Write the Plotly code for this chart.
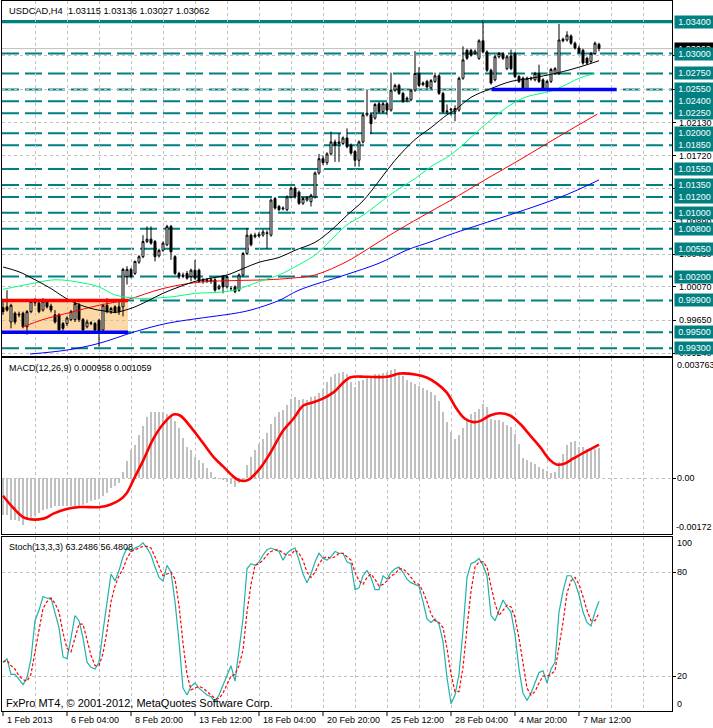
import plotly.graph_objects as go

# ---------------- data ----------------
x_labels = ['1 Feb 2013', '6 Feb 04:00', '8 Feb 20:00', '13 Feb 12:00', '18 Feb 04:00',
            '20 Feb 20:00', '25 Feb 12:00', '28 Feb 04:00', '4 Mar 20:00', '7 Mar 12:00']
x_label_bars = [0, 16, 32, 48, 64, 80, 96, 112, 128, 144]

ohlc = [
    (0.9981, 0.9992, 0.9972, 0.9976), (0.9982, 1.0003, 0.9976, 0.9978), (0.9963, 0.9986, 0.9955, 0.9984),
    (0.9974, 0.9976, 0.9960, 0.9963), (0.9973, 0.9976, 0.9969, 0.9972), (0.9974, 0.9976, 0.9955, 0.9957),
    (0.9957, 0.9978, 0.9947, 0.9976), (0.9976, 0.9991, 0.9974, 0.9989), (0.9987, 0.9993, 0.9983, 0.9988),
    (0.9987, 0.9990, 0.9974, 0.9976), (0.9978, 0.9993, 0.9976, 0.9989), (0.9988, 0.9991, 0.9980, 0.9982),
    (0.9983, 0.9986, 0.9975, 0.9978), (0.9972, 0.9978, 0.9961, 0.9963), (0.9972, 0.9974, 0.9949, 0.9953),
    (0.9961, 0.9963, 0.9952, 0.9955), (0.9961, 0.9970, 0.9958, 0.9968), (0.9966, 0.9978, 0.9964, 0.9976),
    (0.9966, 0.9989, 0.9963, 0.9986), (0.9984, 0.9987, 0.9963, 0.9966), (0.9966, 0.9968, 0.9950, 0.9953),
    (0.9957, 0.9966, 0.9955, 0.9963), (0.9962, 0.9964, 0.9959, 0.9961), (0.9961, 0.9963, 0.9950, 0.9953),
    (0.9965, 0.9967, 0.9932, 0.9949), (0.9953, 0.9986, 0.9950, 0.9984), (0.9984, 0.9993, 0.9974, 0.9976),
    (0.9976, 0.9982, 0.9973, 0.9980), (0.9982, 0.9984, 0.9974, 0.9976), (0.9982, 0.9988, 0.9972, 0.9976),
    (0.9982, 1.0031, 0.9970, 1.0029), (1.0020, 1.0033, 1.0010, 1.0029), (1.0029, 1.0031, 1.0018, 1.0020),
    (1.0024, 1.0040, 1.0022, 1.0039), (1.0038, 1.0047, 1.0036, 1.0045), (1.0045, 1.0072, 1.0043, 1.0064),
    (1.0064, 1.0083, 1.0062, 1.0067), (1.0067, 1.0083, 1.0060, 1.0062), (1.0064, 1.0066, 1.0039, 1.0045),
    (1.0046, 1.0055, 1.0044, 1.0053), (1.0053, 1.0064, 1.0051, 1.0062), (1.0060, 1.0085, 1.0058, 1.0083),
    (1.0083, 1.0085, 1.0041, 1.0051), (1.0045, 1.0047, 1.0022, 1.0024), (1.0024, 1.0026, 1.0017, 1.0020),
    (1.0020, 1.0025, 1.0018, 1.0022), (1.0024, 1.0027, 1.0016, 1.0018), (1.0020, 1.0030, 1.0014, 1.0028),
    (1.0028, 1.0041, 1.0016, 1.0018), (1.0028, 1.0030, 1.0012, 1.0014), (1.0016, 1.0018, 1.0011, 1.0014),
    (1.0014, 1.0018, 1.0012, 1.0016), (1.0016, 1.0019, 1.0011, 1.0014), (1.0016, 1.0018, 1.0001, 1.0003),
    (1.0005, 1.0010, 1.0003, 1.0008), (1.0020, 1.0022, 0.9999, 1.0007), (1.0007, 1.0022, 1.0005, 1.0020),
    (1.0005, 1.0008, 1.0002, 1.0005), (1.0007, 1.0009, 0.9999, 1.0001), (1.0003, 1.0024, 1.0001, 1.0022),
    (1.0022, 1.0051, 1.0020, 1.0049), (1.0049, 1.0081, 1.0047, 1.0072), (1.0072, 1.0074, 1.0058, 1.0060),
    (1.0070, 1.0075, 1.0068, 1.0072), (1.0071, 1.0076, 1.0069, 1.0073), (1.0072, 1.0079, 1.0070, 1.0076),
    (1.0075, 1.0078, 1.0055, 1.0074), (1.0072, 1.0118, 1.0070, 1.0116), (1.0118, 1.0120, 1.0104, 1.0106),
    (1.0108, 1.0110, 1.0102, 1.0104), (1.0105, 1.0108, 1.0103, 1.0106), (1.0104, 1.0122, 1.0102, 1.0120),
    (1.0120, 1.0133, 1.0118, 1.0131), (1.0131, 1.0133, 1.0118, 1.0120), (1.0126, 1.0128, 1.0110, 1.0112),
    (1.0112, 1.0120, 1.0110, 1.0118), (1.0116, 1.0121, 1.0114, 1.0119), (1.0114, 1.0124, 1.0108, 1.0122),
    (1.0120, 1.0152, 1.0118, 1.0150), (1.0150, 1.0174, 1.0148, 1.0168), (1.0168, 1.0172, 1.0160, 1.0163),
    (1.0163, 1.0176, 1.0160, 1.0174), (1.0174, 1.0202, 1.0172, 1.0189), (1.0189, 1.0192, 1.0164, 1.0185),
    (1.0187, 1.0200, 1.0164, 1.0189), (1.0187, 1.0196, 1.0185, 1.0194), (1.0194, 1.0206, 1.0181, 1.0183),
    (1.0185, 1.0187, 1.0173, 1.0175), (1.0177, 1.0179, 1.0158, 1.0166), (1.0166, 1.0191, 1.0158, 1.0189),
    (1.0189, 1.0225, 1.0187, 1.0223), (1.0223, 1.0255, 1.0221, 1.0225), (1.0223, 1.0225, 1.0199, 1.0212),
    (1.0219, 1.0238, 1.0217, 1.0236), (1.0237, 1.0239, 1.0225, 1.0227), (1.0227, 1.0239, 1.0225, 1.0237),
    (1.0237, 1.0239, 1.0223, 1.0229), (1.0229, 1.0276, 1.0227, 1.0254), (1.0254, 1.0262, 1.0252, 1.0260),
    (1.0260, 1.0262, 1.0248, 1.0250), (1.0250, 1.0252, 1.0238, 1.0240), (1.0242, 1.0246, 1.0239, 1.0244),
    (1.0242, 1.0256, 1.0240, 1.0254), (1.0254, 1.0303, 1.0252, 1.0275), (1.0275, 1.0283, 1.0258, 1.0260),
    (1.0261, 1.0265, 1.0259, 1.0263), (1.0265, 1.0267, 1.0256, 1.0258), (1.0257, 1.0268, 1.0255, 1.0266),
    (1.0265, 1.0276, 1.0263, 1.0272), (1.0272, 1.0274, 1.0248, 1.0250), (1.0250, 1.0252, 1.0225, 1.0227),
    (1.0228, 1.0236, 1.0224, 1.0227), (1.0229, 1.0232, 1.0222, 1.0230), (1.0227, 1.0235, 1.0215, 1.0231),
    (1.0229, 1.0271, 1.0227, 1.0269), (1.0269, 1.0309, 1.0267, 1.0292), (1.0304, 1.0306, 1.0292, 1.0294),
    (1.0304, 1.0306, 1.0296, 1.0298), (1.0300, 1.0305, 1.0298, 1.0303), (1.0294, 1.0318, 1.0292, 1.0316),
    (1.0316, 1.0342, 1.0300, 1.0302), (1.0302, 1.0304, 1.0277, 1.0279), (1.0279, 1.0281, 1.0261, 1.0263),
    (1.0267, 1.0298, 1.0265, 1.0296), (1.0296, 1.0302, 1.0294, 1.0300), (1.0300, 1.0302, 1.0292, 1.0294),
    (1.0281, 1.0298, 1.0279, 1.0296), (1.0297, 1.0305, 1.0279, 1.0281), (1.0300, 1.0302, 1.0269, 1.0271),
    (1.0271, 1.0273, 1.0263, 1.0265), (1.0269, 1.0271, 1.0255, 1.0256), (1.0256, 1.0271, 1.0255, 1.0269),
    (1.0268, 1.0271, 1.0266, 1.0269), (1.0267, 1.0277, 1.0265, 1.0275), (1.0275, 1.0286, 1.0263, 1.0265),
    (1.0267, 1.0269, 1.0253, 1.0254), (1.0254, 1.0267, 1.0253, 1.0265), (1.0265, 1.0282, 1.0263, 1.0280),
    (1.0275, 1.0283, 1.0273, 1.0281), (1.0275, 1.0337, 1.0273, 1.0317), (1.0318, 1.0320, 1.0314, 1.0316),
    (1.0317, 1.0328, 1.0315, 1.0323), (1.0322, 1.0324, 1.0311, 1.0313), (1.0313, 1.0315, 1.0305, 1.0307),
    (1.0307, 1.0310, 1.0300, 1.0301), (1.0304, 1.0306, 1.0286, 1.0288), (1.0294, 1.0296, 1.0286, 1.0288),
    (1.0290, 1.0302, 1.0288, 1.0300), (1.0300, 1.0315, 1.0298, 1.0313), (1.03115, 1.03136, 1.03027, 1.03062),
]
opens = [r[0] for r in ohlc]
highs = [r[1] for r in ohlc]
lows = [r[2] for r in ohlc]
closes = [r[3] for r in ohlc]
bars = list(range(len(ohlc)))

# moving averages (bar position, price)
ma_black_x = [0, 4, 8, 12, 15, 18, 22, 25, 28, 30, 33, 36, 40, 44, 48, 52, 56, 60, 64, 69, 73, 78, 82, 86, 90,
              94, 98, 103, 107, 111, 113, 117, 122, 127, 132, 138, 142, 146, 149]
ma_black_y = [1.0032, 1.0026, 1.0016, 1.0005, 0.9995, 0.9987, 0.9980, 0.9977, 0.9975, 0.9977, 0.9982, 0.9989,
              0.9999, 1.0007, 1.0014, 1.0018, 1.0022, 1.0030, 1.0038, 1.0044, 1.0053, 1.0063, 1.0078, 1.0097,
              1.0115, 1.0140, 1.0166, 1.0192, 1.0207, 1.0223, 1.0229, 1.0245, 1.0256, 1.0265, 1.0269, 1.0275,
              1.0280, 1.0286, 1.0291]
ma_green_x = [0, 6, 13, 20, 24, 28, 33, 38, 43, 48, 53, 58, 62, 66, 69, 74, 78, 82, 86, 90, 94, 98, 103, 107,
              112, 116, 119, 125, 130, 137, 140, 144, 148]
ma_green_y = [1.0004, 1.0010, 1.0016, 1.0012, 1.0007, 0.9997, 0.9993, 0.9993, 0.9995, 0.9999, 1.0000, 1.0003,
              1.0010, 1.0017, 1.0022, 1.0035, 1.0047, 1.0066, 1.0085, 1.0097, 1.0112, 1.0127, 1.0143, 1.0158,
              1.0173, 1.0190, 1.0204, 1.0229, 1.0244, 1.0253, 1.0259, 1.0269, 1.0275]
ma_red_x = [5, 10, 16, 24, 31, 40, 49, 58, 66, 72, 78, 86, 90, 98, 107, 112, 120, 130, 139, 148.6]
ma_red_y = [0.9957, 0.9966, 0.9974, 0.9984, 0.9991, 1.0005, 1.0013, 1.0015, 1.0016, 1.0018, 1.0022, 1.0039,
            1.0051, 1.0076, 1.0102, 1.0116, 1.0140, 1.0169, 1.0196, 1.0224]
ma_blue_x = [6.75, 16, 24, 33, 41, 49, 58, 62, 69, 74, 85.5, 94, 101, 107, 112, 139, 149]
ma_blue_y = [0.99228, 0.99278, 0.99362, 0.99508, 0.99613, 0.99676, 0.99739, 0.99781, 0.9990, 1.0003, 1.0022,
             1.00367, 1.00534, 1.00638, 1.00731, 1.0119, 1.01413]

levels = [1.0300, 1.0275, 1.0255, 1.0240, 1.0225, 1.0200, 1.0185, 1.0155, 1.0135, 1.0120, 1.0100, 1.0080,
          1.0055, 1.0020, 0.9990, 0.9950, 0.9930]
top_level = 1.0340
last_price = 1.03062
price_grid = [1.0297, 1.0255, 1.0213, 1.0172, 1.0131, 1.0089, 1.0048, 1.0007, 0.9965, 0.9924]

macd_hist = [-113.1, -113.1, -128.6, -130.6, -133.7, -144.1, -128.6, -123.4, -118.3, -107.9, -97.6, -95.5,
             -92.4, -87.3, -87.3, -87.3, -87.3, -87.3, -89.3, -85.2, -82.1, -76.9, -71.8, -68.7, -64.6, -56.3,
             -46.0, -30.5, -23.3, -12.9, 21.1, 54.2, 88.3, 103.8, 134.7, 162.6, 191.5, 207.0, 209.1, 207.0,
             207.0, 201.8, 196.7, 179.1, 158.5, 127.5, 98.6, 88.3, 67.6, 57.3, 46.9, 31.4, 21.1, 5.6, -0.5,
             -2.6, -9.8, -17.1, -25.3, -15.0, -2.6, 41.8, 67.6, 88.3, 108.9, 124.4, 142.0, 168.8, 191.5, 207.0,
             214.3, 230.8, 248.3, 253.5, 245.2, 248.3, 245.2, 253.5, 258.6, 265.9, 279.3, 299.9, 315.4, 325.8,
             330.9, 334.1, 325.8, 299.9, 286.5, 303.0, 307.2, 315.4, 320.6, 325.8, 327.8, 329.9, 334.1, 338.2,
             341.3, 334.1, 320.6, 307.2, 299.9, 294.8, 289.6, 282.4, 276.2, 268.9, 261.7, 243.2, 207.0, 176.0,
             145.0, 124.4, 134.7, 158.5, 181.2, 199.8, 207.0, 217.3, 232.8, 222.5, 186.4, 183.3, 181.2, 176.0,
             165.7, 160.5, 139.9, 108.9, 62.4, 57.3, 52.1, 44.9, 36.6, 28.4, 24.2, 18.1, 21.1, 52.1, 77.9,
             103.8, 114.1, 117.2, 98.6, 98.6, 93.4, 93.4, 93.4, 95.8]  # units of 1e-5
macd_values = [v / 100000 for v in macd_hist]
signal_x = [0, 2.6, 5.5, 10.1, 12.6, 15.9, 19.25, 24.25, 26.75, 29.25, 30.9, 32.6, 35.1, 37.6, 40.1, 42.6,
            44.25, 47.6, 50.1, 52.6, 55.1, 57.6, 59.25, 61.3, 64.25, 66.75, 70.1, 72.6, 75.1, 77.6, 80.1, 82.6,
            86.75, 90.9, 95.9, 99.25, 103.4, 105.9, 108.4, 110.9, 113.4, 115.5, 117.6, 119.25, 121.75, 124.25,
            126.75, 129.25, 131.75, 134.25, 136.75, 138.4, 140.1, 142.6, 145.1, 147.6, 149]
signal_y = [-0.000542, -0.000924, -0.001234, -0.001255, -0.001100, -0.000955, -0.000893, -0.000893, -0.000821,
            -0.000666, -0.000459, -0.000046, 0.000573, 0.001244, 0.001709, 0.001998, 0.001967, 0.001502,
            0.001089, 0.000676, 0.000367, 0.000057, -0.000067, -0.000046, 0.000315, 0.000780, 0.001502,
            0.001864, 0.002277, 0.002380, 0.002504, 0.002690, 0.003154, 0.003175, 0.003175, 0.003278, 0.003237,
            0.003154, 0.002969, 0.002690, 0.002174, 0.001864, 0.001760, 0.001791, 0.001967, 0.002039, 0.001967,
            0.001709, 0.001348, 0.000986, 0.000573, 0.000439, 0.000449, 0.000625, 0.000800, 0.000966, 0.001059]

stoch_k = [28, 30, 21, 21, 18, 15, 19, 30, 52, 58, 66, 65, 65, 57, 48, 31, 30, 42, 55, 52, 42, 28, 25, 24, 28,
           46, 63, 79, 75, 81, 89, 94, 92, 94, 95, 97, 94, 90, 83, 77, 75, 84, 80, 63, 40, 13, 9, 14, 16, 13,
           11, 9, 8, 5, 9, 15, 20, 26, 17, 36, 53, 82, 85, 84, 86, 90, 93, 94, 93, 92, 87, 91, 93, 94, 87, 79,
           74, 79, 86, 91, 88, 87, 89, 92, 91, 91, 86, 85, 70, 71, 78, 81, 77, 70, 70, 78, 76, 80, 82, 83, 80,
           76, 74, 73, 72, 63, 53, 51, 53, 50, 40, 19, 4, 9, 21, 46, 77, 85, 86, 88, 84, 78, 55, 52, 58, 64, 60,
           57, 44, 24, 10, 6, 10, 16, 22, 23, 16, 24, 28, 57, 69, 78, 78, 74, 67, 57, 51, 49, 57, 63.2486]
stoch_d = [28, 29, 26, 24, 20, 18, 17, 21, 34, 47, 59, 63, 65, 62, 57, 45, 36, 34, 42, 50, 50, 41, 32, 26, 26,
           33, 46, 63, 72, 78, 82, 88, 92, 93, 94, 95, 95, 94, 89, 83, 78, 79, 80, 76, 61, 39, 21, 12, 13, 14,
           13, 11, 9, 7, 7, 10, 15, 20, 21, 26, 35, 57, 73, 84, 85, 87, 90, 92, 93, 93, 91, 90, 90, 93, 91, 87,
           80, 77, 80, 85, 88, 89, 88, 89, 91, 91, 89, 87, 80, 75, 73, 77, 79, 76, 72, 73, 75, 78, 79, 82, 82,
           80, 77, 74, 73, 69, 63, 56, 52, 51, 48, 36, 21, 11, 11, 25, 48, 69, 83, 86, 86, 83, 72, 62, 55, 58,
           61, 60, 54, 42, 26, 13, 9, 11, 16, 20, 20, 21, 23, 36, 51, 68, 75, 77, 73, 66, 58, 52, 52, 56.4808]

# ---------------- layout helpers (pixel -> paper) ----------------
W, H = 713, 728
ML, MR, MT, MB = 2, 41, 1, 17
PW, PH = W - ML - MR, H - MT - MB


def px(X):
    return (X - ML) / PW


def py(Y):
    return (H - MB - Y) / PH


FONT = 'Liberation Sans'
GRID = '#C0C0C0'
TEAL = '#008080'

fig = go.Figure()

fig.add_trace(go.Candlestick(
    x=bars, open=opens, high=highs, low=lows, close=closes,
    increasing=dict(line=dict(color='black', width=1), fillcolor='white'),
    decreasing=dict(line=dict(color='black', width=1), fillcolor='black'),
    whiskerwidth=0, xaxis='x', yaxis='y', hoverinfo='skip'))

for xs, ys, col in [(ma_blue_x, ma_blue_y, '#0000FF'), (ma_red_x, ma_red_y, '#FF0000'),
                    (ma_green_x, ma_green_y, '#00FF7F'), (ma_black_x, ma_black_y, '#000000')]:
    fig.add_trace(go.Scatter(x=xs, y=ys, mode='lines', line=dict(color=col, width=1, shape='spline'),
                             xaxis='x', yaxis='y', hoverinfo='skip'))

fig.add_trace(go.Bar(x=bars, y=macd_values, width=0.25, marker=dict(color='#C0C0C0', line=dict(width=0)),
                     xaxis='x2', yaxis='y2', hoverinfo='skip'))
fig.add_trace(go.Scatter(x=signal_x, y=signal_y, mode='lines', line=dict(color='#FF0000', width=2.6, shape='spline'),
                         xaxis='x2', yaxis='y2', hoverinfo='skip'))

fig.add_trace(go.Scatter(x=bars, y=stoch_k, mode='lines', line=dict(color='#20B2AA', width=1.2),
                         xaxis='x3', yaxis='y3', hoverinfo='skip'))
fig.add_trace(go.Scatter(x=bars, y=stoch_d, mode='lines', line=dict(color='#FF0000', width=1.2, dash='3px,2px'),
                         xaxis='x3', yaxis='y3', hoverinfo='skip'))

xr = [-0.25, 167.25]
xcommon = dict(range=xr, showgrid=True, gridcolor=GRID, griddash='3px,3px', gridwidth=1,
               tickvals=list(range(8, 168, 8)), showticklabels=False, ticks='', showline=True,
               linecolor='black', linewidth=1, mirror=True, zeroline=False, fixedrange=True)
ycommon = dict(side='right', showgrid=True, gridcolor=GRID, griddash='3px,3px', gridwidth=1,
               showticklabels=False, ticks='outside', ticklen=3, tickcolor='black', showline=True,
               linecolor='black', linewidth=1, mirror=True, zeroline=False, fixedrange=True)

main_top = 1.03672 - 0.00012553 * 1
main_bot = 1.03672 - 0.00012553 * 356

fig.update_layout(
    width=W, height=H, margin=dict(l=ML, r=MR, t=MT, b=MB),
    paper_bgcolor='white', plot_bgcolor='white', showlegend=False, hovermode=False,
    font=dict(family=FONT, size=9, color='black'), bargap=0,
    xaxis=dict(xcommon, anchor='y', domain=[0, 1], rangeslider=dict(visible=False)),
    xaxis2=dict(xcommon, anchor='y2', domain=[0, 1]),
    xaxis3=dict(xcommon, anchor='y3', domain=[0, 1]),
    yaxis=dict(ycommon, domain=[py(356), py(1)], range=[main_bot, main_top], tickvals=price_grid),
    yaxis2=dict(ycommon, domain=[py(533.5), py(358)], range=[-0.00172, 0.003763], tickvals=[0]),
    yaxis3=dict(ycommon, domain=[py(711), py(536.5)], range=[-0.23, 100.69], tickvals=[20, 80]),
)

shapes = []
# orange rectangle with red / blue borders
shapes.append(dict(type='rect', xref='x', yref='y', x0=-0.25, x1=31.25, y0=0.9950, y1=0.9990,
                   fillcolor='#FDD9A5', line=dict(width=0), layer='below'))
for lv in levels:
    shapes.append(dict(type='line', xref='paper', yref='y', x0=0, x1=1, y0=lv, y1=lv,
                       line=dict(color=TEAL, width=2, dash='17px,6px'), layer='below'))
shapes.append(dict(type='line', xref='paper', yref='y', x0=0, x1=1, y0=top_level, y1=top_level,
                   line=dict(color=TEAL, width=3.3), layer='below'))
shapes.append(dict(type='line', xref='paper', yref='y', x0=0, x1=1, y0=last_price, y1=last_price,
                   line=dict(color='#C0C0C0', width=1), layer='below'))
shapes.append(dict(type='line', xref='x', yref='y', x0=-0.25, x1=31.25, y0=0.9990, y1=0.9990,
                   line=dict(color='#FF0000', width=3.5)))
shapes.append(dict(type='line', xref='x', yref='y', x0=-0.25, x1=31.25, y0=0.9950, y1=0.9950,
                   line=dict(color='#0000FF', width=3.5)))
shapes.append(dict(type='line', xref='x', yref='y', x0=122.2, x1=153.4, y0=1.0255, y1=1.0255,
                   line=dict(color='#0000FF', width=3.5)))
for b in x_label_bars:
    shapes.append(dict(type='line', xref='x3', yref='paper', x0=b, x1=b, y0=py(711), y1=py(716),
                       line=dict(color='black', width=1)))
fig.update_layout(shapes=shapes)

ann = []


def txt(X, Y, s, size=9):
    ann.append(dict(xref='paper', yref='paper', x=px(X), y=py(Y), text=s, showarrow=False,
                    xanchor='left', yanchor='middle', font=dict(size=size, color='black')))


txt(7, 11, 'USDCAD,H4  1.03115 1.03136 1.03027 1.03062', 9.3)
txt(7, 368, 'MACD(12,26,9) 0.000958 0.001059')
txt(7, 547, 'Stoch(13,3,3) 63.2486 56.4808')
txt(4, 703, 'FxPro MT4, © 2001-2012, MetaQuotes Software Corp.', 11)

# right-axis plain labels
for v in price_grid:
    ann.append(dict(xref='paper', yref='y', x=px(677), y=v, text='%.5f' % v, showarrow=False,
                    xanchor='left', yanchor='middle', font=dict(size=9, color='black')))
txt(675, 365, '0.003763')
ann.append(dict(xref='paper', yref='y2', x=px(675), y=0, text='0.00', showarrow=False,
                xanchor='left', yanchor='middle', font=dict(size=9, color='black')))
txt(674, 527, '-0.00172')
txt(675, 543, '100')
for v in [80, 20]:
    ann.append(dict(xref='paper', yref='y3', x=px(675), y=v, text=str(v), showarrow=False,
                    xanchor='left', yanchor='middle', font=dict(size=9, color='black')))
txt(675, 704, '0')

# current price box (black) then level boxes (teal)
ann.append(dict(xref='paper', yref='y', x=px(674), y=last_price, text='%.5f' % last_price, showarrow=False,
                xanchor='left', yanchor='middle', bgcolor='black', width=37, height=10, borderpad=1,
                font=dict(size=9, color='white')))
for lv in [top_level] + levels:
    ann.append(dict(xref='paper', yref='y', x=px(674), y=lv, text='%.5f' % lv, showarrow=False,
                    xanchor='left', yanchor='middle', bgcolor=TEAL, width=37, height=10, borderpad=1,
                    font=dict(size=9, color='white')))

# time labels
for b, s in zip(x_label_bars, x_labels):
    ann.append(dict(xref='x3', yref='paper', x=b, xshift=2, y=py(720), text=s, showarrow=False,
                    xanchor='left', yanchor='middle', font=dict(size=9, color='black')))

fig.update_layout(annotations=ann)
fig.write_html('out.html', config={'displayModeBar': False},
               post_script="document.body.style.margin='0';document.body.style.overflow='hidden';")
